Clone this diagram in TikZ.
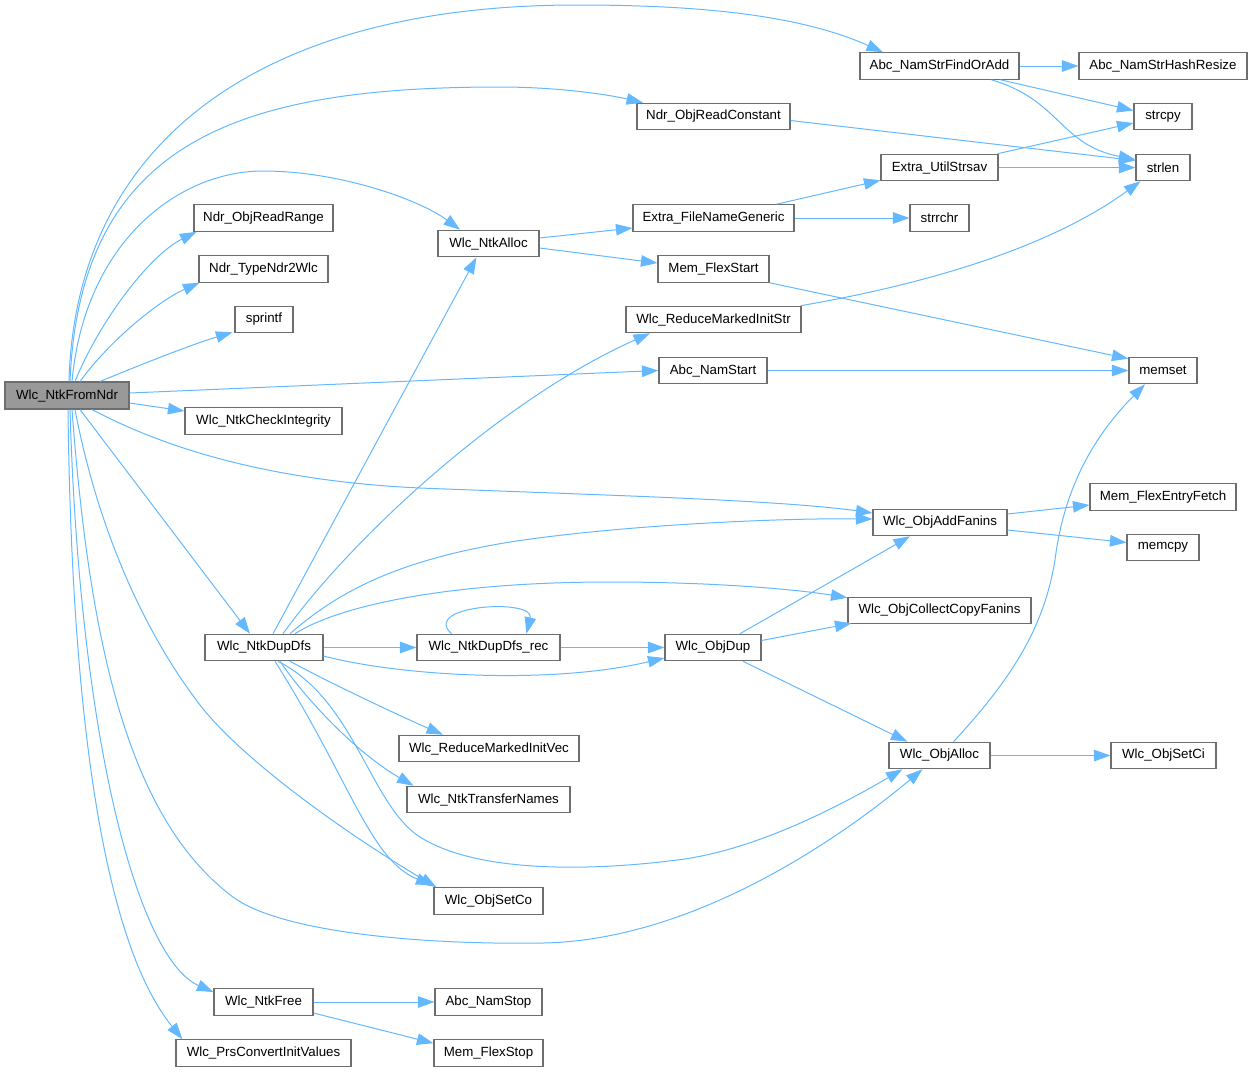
\documentclass[tikz,border=0pt]{standalone}
\usepackage{fontspec}
\setmainfont{Liberation Sans}
\usetikzlibrary{arrows.meta,calc}
\definecolor{edgeblue}{HTML}{63B8FF}
\definecolor{boxgray}{HTML}{6E6E6E}
\definecolor{rootgray}{HTML}{999999}
\begin{document}
\begin{tikzpicture}[x=1pt,y=-1pt,
  box/.style={draw=boxgray, line width=1.1pt, fill=white, inner sep=0pt,
    minimum height=26.5pt, text=black, font=\fontsize{13.3}{16}\selectfont},
  rootbox/.style={box, fill=rootgray},
  call/.style={draw=edgeblue, line width=1pt, -{Triangle[length=16.5pt,width=11.5pt]}}]
\useasboundingbox (0,0) rectangle (1253,1072);
% nodes
\node[rootbox, minimum width=124pt, minimum height=27pt] (R) at (67,395.5) {Wlc\_NtkFromNdr};
\node[box, minimum width=159pt] (A1) at (939.5,66) {Abc\_NamStrFindOrAdd};
\node[box, minimum width=168pt] (A2) at (1163,66) {Abc\_NamStrHashResize};
\node[box, minimum width=58pt] (SC) at (1163,116.5) {strcpy};
\node[box, minimum width=54pt] (SL) at (1163,167.5) {strlen};
\node[box, minimum width=153pt] (NORC) at (713.5,116.5) {Ndr\_ObjReadConstant};
\node[box, minimum width=117pt] (EUS) at (939.5,167.5) {Extra\_UtilStrsav};
\node[box, minimum width=161pt] (EFNG) at (713.5,218) {Extra\_FileNameGeneric};
\node[box, minimum width=59pt] (SRC) at (939.5,218) {strrchr};
\node[box, minimum width=139pt] (NORR) at (263.5,218) {Ndr\_ObjReadRange};
\node[box, minimum width=101pt] (NA) at (488.5,243.5) {Wlc\_NtkAlloc};
\node[box, minimum width=129pt] (NT2W) at (263.5,269) {Ndr\_TypeNdr2Wlc};
\node[box, minimum width=111pt] (MFS) at (713.5,269) {Mem\_FlexStart};
\node[box, minimum width=58pt] (SP) at (264,319.5) {sprintf};
\node[box, minimum width=175pt] (RMIS) at (713.5,319.5) {Wlc\_ReduceMarkedInitStr};
\node[box, minimum width=108pt] (ANS) at (713,370.5) {Abc\_NamStart};
\node[box, minimum width=68pt] (MS) at (1163,370.5) {memset};
\node[box, minimum width=157pt] (CI) at (263.5,421) {Wlc\_NtkCheckIntegrity};
\node[box, minimum width=146pt] (MFEF) at (1163,497) {Mem\_FlexEntryFetch};
\node[box, minimum width=134pt] (AF) at (940,522.5) {Wlc\_ObjAddFanins};
\node[box, minimum width=72pt] (MC) at (1163,547.5) {memcpy};
\node[box, minimum width=183pt] (CCF) at (939.5,610.5) {Wlc\_ObjCollectCopyFanins};
\node[box, minimum width=118pt] (ND) at (264,647.5) {Wlc\_NtkDupDfs};
\node[box, minimum width=143pt] (NDR) at (488.5,647.5) {Wlc\_NtkDupDfs\_rec};
\node[box, minimum width=96pt] (OD) at (713,647.5) {Wlc\_ObjDup};
\node[box, minimum width=180pt] (RMIV) at (489,748.5) {Wlc\_ReduceMarkedInitVec};
\node[box, minimum width=101pt] (OA) at (939.5,755.5) {Wlc\_ObjAlloc};
\node[box, minimum width=105pt] (OSCi) at (1163.5,755.5) {Wlc\_ObjSetCi};
\node[box, minimum width=163pt] (NTN) at (488.5,799.5) {Wlc\_NtkTransferNames};
\node[box, minimum width=109pt] (OSC) at (488.5,901) {Wlc\_ObjSetCo};
\node[box, minimum width=99pt] (NF) at (263.5,1002) {Wlc\_NtkFree};
\node[box, minimum width=107pt] (ANSt) at (488.5,1002) {Abc\_NamStop};
\node[box, minimum width=175pt] (PCIV) at (263.5,1053) {Wlc\_PrsConvertInitValues};
\node[box, minimum width=109pt] (MFSt) at (488.5,1053) {Mem\_FlexStop};
% root edges
\draw[call] ($(R.north)+(2,0)$) .. controls (75,150) and (250,5) .. (577,5)
  .. controls (700,5) and (800,15) .. ($(A1.north)+(-56.5,0)$);
\draw[call] ($(R.north)+(3,0)$) .. controls (80,140) and (240,87) .. (500,87)
  .. controls (560,87) and (610,95) .. ($(NORC.north)+(-70.5,0)$);
\draw[call] ($(R.north)+(5,0)$) .. controls (85,240) and (180,171) .. (263,171)
  .. controls (340,171) and (420,200) .. ($(NA.north)+(-28.5,0)$);
\draw[call] ($(R.north)+(8,0)$) .. controls (100,320) and (150,255) .. ($(NORR.south west)+(3,0)$);
\draw[call] ($(R.north)+(13,0)$) .. controls (110,340) and (160,300) .. ($(NT2W.south west)+(1,0)$);
\draw[call] ($(R.north)+(33,0)$) .. controls (140,365) and (190,345) .. ($(SP.south west)+(-2,-1)$);
\draw[call] ($(R.east)+(0,-2.5)$) -- (ANS.west);
\draw[call] ($(R.east)+(0,7.5)$) -- ($(CI.west)+(0,-10)$);
\draw[call] ($(R.south)+(25,0)$) .. controls (150,440) and (250,480) .. (420,488)
  .. controls (600,495) and (780,500) .. ($(AF.west)+(0,-9.5)$);
\draw[call] ($(R.south)+(13,0)$) -- ($(ND.north)+(-14,0)$);
\draw[call] ($(R.south)+(8,0)$) .. controls (100,540) and (150,640) .. (200,705)
  .. controls (240,757) and (340,830) .. ($(OSC.north west)+(3,0)$);
\draw[call] ($(R.south)+(5,0)$) .. controls (90,650) and (130,820) .. (233,897)
  .. controls (280,932) and (420,945) .. (543,943)
  .. controls (700,940) and (850,830) .. ($(OA.south west)+(34,0)$);
\draw[call] ($(R.south)+(3,0)$) .. controls (80,750) and (140,960) .. ($(NF.west)+(0,-10)$);
\draw[call] ($(R.south)+(1,0)$) .. controls (72,750) and (110,950) .. ($(PCIV.north west)+(7,0)$);
% NtkDupDfs edges
\draw[call] ($(ND.north)+(9,0)$) -- ($(NA.south)+(-12,0)$);
\draw[call] ($(ND.north)+(19,0)$) .. controls (350,540) and (500,400) .. ($(RMIS.south)+(-63.5,0)$);
\draw[call] ($(ND.north)+(26,0)$) .. controls (340,590) and (400,560) .. (510,542)
  .. controls (620,525) and (780,518) .. ($(AF.west)+(0,-3.5)$);
\draw[call] ($(ND.north)+(31,0)$) .. controls (340,605) and (450,582) .. (610,582)
  .. controls (720,582) and (800,590) .. ($(CCF.north west)+(0,1)$);
\draw[call] (ND.east) -- (NDR.west);
\draw[call] ($(ND.east)+(0,8.5)$) .. controls (400,676) and (550,685) .. ($(OD.west)+(0,10.5)$);
\draw[call] ($(ND.south)+(26,0)$) .. controls (330,683) and (400,716) .. ($(RMIV.north)+(-46,0)$);
\draw[call] ($(ND.south)+(16,0)$) .. controls (310,705) and (360,755) .. ($(NTN.north)+(-75,0)$);
\draw[call] ($(ND.south)+(11,0)$) .. controls (350,780) and (370,860) .. ($(OSC.north west)+(-1,-2)$);
\draw[call] ($(ND.south)+(14,0)$) .. controls (355,700) and (370,805) .. (420,837)
  .. controls (480,875) and (600,870) .. (677,860)
  .. controls (760,850) and (850,800) .. ($(OA.south west)+(14,0)$);
% NtkDupDfs_rec
\draw[call] ($(NDR.north)+(-37,0)$) .. controls (420,605) and (535,598) .. ($(NDR.north)+(38,0)$);
\draw[call] (NDR.east) -- (OD.west);
% ObjDup
\draw[call] ($(OD.north)+(27,0)$) -- ($(AF.south)+(-30,0)$);
\draw[call] ($(OD.east)+(0,-7)$) -- ($(CCF.south west)+(4,-1)$);
\draw[call] ($(OD.south)+(30,0)$) -- ($(OA.north west)+(19,0)$);
% ObjAlloc
\draw[call] (OA.east) -- (OSCi.west);
\draw[call] ($(OA.north)+(14,0)$) .. controls (1020,670) and (1045,620) .. (1055,560)
  .. controls (1065,480) and (1100,430) .. ($(MS.south)+(-18,0)$);
% ObjAddFanins
\draw[call] ($(AF.east)+(0,-8.5)$) -- ($(MFEF.west)+(0,8)$);
\draw[call] ($(AF.east)+(0,7.5)$) -- ($(MC.west)+(0,-5)$);
% NtkAlloc
\draw[call] ($(NA.east)+(0,-5.5)$) -- ($(EFNG.west)+(0,10)$);
\draw[call] ($(NA.east)+(0,4.5)$) -- ($(MFS.west)+(0,-6)$);
% Extra_FileNameGeneric
\draw[call] ($(EFNG.north)+(63,0)$) -- ($(EUS.south west)+(0,-1)$);
\draw[call] (EFNG.east) -- (SRC.west);
% Extra_UtilStrsav
\draw[call] ($(EUS.north east)+(-1,0)$) -- ($(SC.west)+(0,6.5)$);
\draw[call] (EUS.east) -- (SL.west);
% Abc_NamStrFindOrAdd
\draw[call] (A1.east) -- (A2.west);
\draw[call] ($(A1.south)+(61,0)$) -- ($(SC.west)+(0,-6)$);
\draw[call] ($(A1.south)+(52,0)$) .. controls (1060,100) and (1060,145) .. ($(SL.west)+(0,-8)$);
% others
\draw[call] ($(NORC.east)+(0,4)$) -- ($(SL.west)+(0,-7)$);
\draw[call] (MFS.south east) -- ($(MS.north west)+(0,2)$);
\draw[call] ($(RMIS.north east)+(-1,0)$) .. controls (950,280) and (1060,240) .. ($(SL.south west)+(5,0)$);
\draw[call] (ANS.east) -- (MS.west);
\draw[call] (NF.east) -- (ANSt.west);
\draw[call] ($(NF.east)+(0,11)$) -- ($(MFSt.north west)+(0,4)$);
\end{tikzpicture}
\end{document}
